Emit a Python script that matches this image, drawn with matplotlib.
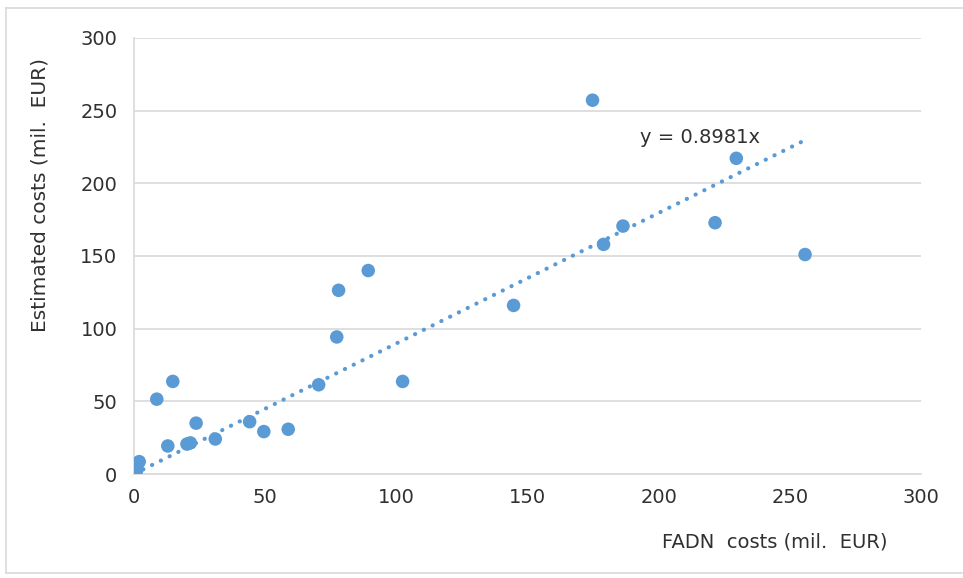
import matplotlib.pyplot as plt
from matplotlib.lines import Line2D

# FADN costs vs estimated costs (mil. EUR)
fadn_costs = [0.2, 0.8, 1.2, 2.0, 8.7, 14.8, 12.9, 20.2, 21.5, 23.7, 31.0,
              44.1, 49.5, 58.8, 70.4, 77.3, 78.0, 89.3, 102.4, 144.7,
              174.8, 179.0, 186.4, 221.5, 229.6, 255.8]
est_costs = [0.3, 1.5, 3.5, 8.5, 51.5, 63.7, 19.3, 20.6, 21.4, 35.0, 24.1,
             36.0, 29.2, 30.8, 61.4, 94.3, 126.4, 140.0, 63.7, 116.0,
             257.2, 158.0, 170.6, 172.9, 217.2, 151.0]
slope = 0.8981

blue = '#5B9BD5'
grid_col = '#D9D9D9'
text_col = '#303030'

fig = plt.figure(figsize=(9.63, 5.78), dpi=100)
ax = fig.add_axes([0.1391, 0.1799, 0.8173, 0.7544])

# trend line through origin, spanning the data range
x_line = [min(fadn_costs), max(fadn_costs)]
y_line = [slope * v for v in x_line]
ax.plot(x_line, y_line, linestyle=(0, (0.05, 2.3)), color=blue, linewidth=3.0,
        dash_capstyle='round', zorder=2)

ax.scatter(fadn_costs, est_costs, s=95, color=blue, edgecolors='none', zorder=3)

ax.text(215.8, 231.7, 'y = 0.8981x', fontsize=14, color=text_col, ha='center', va='center')

ax.set_xlim(0, 300)
ax.set_ylim(0, 300)
ax.set_xticks(range(0, 301, 50))
ax.set_yticks(range(0, 301, 50))
ax.tick_params(axis='both', length=0, labelsize=14, colors=text_col, pad=10)
ax.tick_params(axis='y', pad=12)

ax.grid(axis='y', color=grid_col, linewidth=1.2)
ax.set_axisbelow(True)
for side in ['top', 'right']:
    ax.spines[side].set_visible(False)
for side in ['left', 'bottom']:
    ax.spines[side].set_color(grid_col)
    ax.spines[side].set_linewidth(1.2)

ax.set_xlabel('FADN  costs (mil.  EUR)', fontsize=14, color=text_col)
ax.xaxis.set_label_coords(0.814, -0.135)
ax.set_ylabel('Estimated costs (mil.  EUR)', fontsize=14.5, color=text_col)
ax.yaxis.set_label_coords(-0.107, 0.64)

# light border around the chart area
bc = '#D9D9D9'
fig.add_artist(Line2D([6/963, 1], [1 - 8/578, 1 - 8/578], color=bc, lw=1.2))
fig.add_artist(Line2D([6/963, 6/963], [1 - 8/578, 1 - 573/578], color=bc, lw=1.2))
fig.add_artist(Line2D([6/963, 1], [1 - 573/578, 1 - 573/578], color=bc, lw=1.2))

fig.savefig('out.png', dpi=100)
